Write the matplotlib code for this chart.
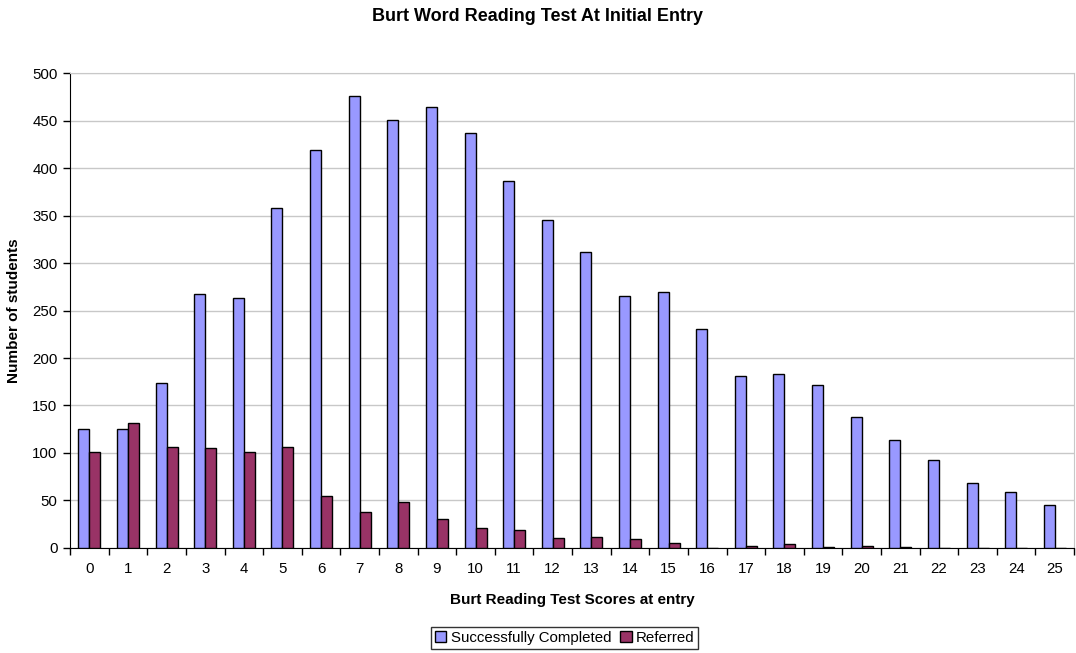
import numpy as np
import matplotlib
matplotlib.use('Agg')
import matplotlib.pyplot as plt

plt.rcParams['font.family'] = ['Liberation Sans', 'DejaVu Sans']

scores = list(range(26))
completed = [125, 125, 174, 267, 263, 358, 419, 476, 451, 464, 437, 386, 345,
             312, 265, 270, 231, 181, 183, 172, 138, 114, 93, 68, 59, 45]
referred = [101, 132, 106, 105, 101, 106, 55, 38, 48, 31, 21, 19, 10,
            12, 9, 5, 0, 2, 4, 1, 2, 1, 0, 0, 0, 0]

fig = plt.figure(figsize=(10.76, 6.53), dpi=100)
ax = fig.add_axes([0.0651, 0.1608, 0.9331, 0.7274])

x = np.arange(len(scores))
w = 0.285
ax.bar(x - w / 2, completed, w, color='#9999FF', edgecolor='black', linewidth=1.0,
       label='Successfully Completed', zorder=3)
ax.bar(x + w / 2, referred, w, color='#993366', edgecolor='black', linewidth=1.0,
       label='Referred', zorder=3)

ax.set_xlim(-0.5, len(scores) - 0.5)
ax.set_ylim(0, 500)
ax.set_yticks(range(0, 501, 50))
ax.yaxis.grid(True, color='#C8C8C8', linewidth=1.0, zorder=0)

# category labels in the middle, tick marks between categories
ax.set_xticks(x)
ax.set_xticklabels([str(s) for s in scores], fontsize=10.8)
ax.tick_params(axis='x', length=0, pad=10)
ax.set_xticks(np.arange(-0.5, len(scores)), minor=True)
ax.tick_params(axis='x', which='minor', length=5, width=1, color='black', direction='out')
ax.tick_params(axis='y', length=5, width=1, labelsize=10.8, pad=4)

for side in ['top', 'right']:
    ax.spines[side].set_color('#C8C8C8')
ax.spines['left'].set_color('black')
ax.spines['bottom'].set_color('black')

ax.set_xlabel('Burt Reading Test Scores at entry', fontsize=11, fontweight='bold', labelpad=12)
ax.set_ylabel('Number of students', fontsize=11, fontweight='bold', labelpad=8)
fig.text(0.5, 0.975, 'Burt Word Reading Test At Initial Entry', ha='center', va='center',
         fontsize=13, fontweight='bold')

leg = fig.legend(loc='center', bbox_to_anchor=(0.525, 0.023), ncol=2, frameon=True,
                 fancybox=False, edgecolor='black', fontsize=10.8, handlelength=0.75,
                 handleheight=0.75, handletextpad=0.3, columnspacing=0.6,
                 borderpad=0.25, borderaxespad=0)
leg.get_frame().set_linewidth(1.0)

fig.savefig('out.png', dpi=100)
